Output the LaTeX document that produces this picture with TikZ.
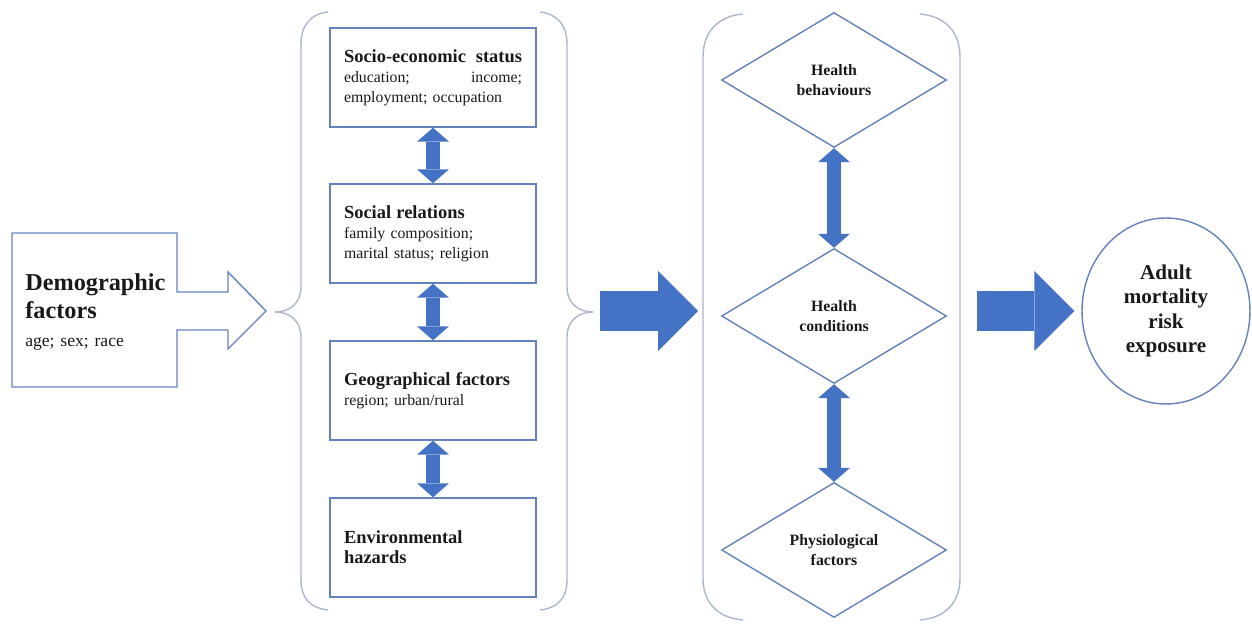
\documentclass[tikz,border=0pt]{standalone}
\usepackage{fontspec}
\setmainfont{Liberation Serif}
\usetikzlibrary{shapes.geometric,arrows.meta}
\definecolor{boxblue}{RGB}{100,130,190}
\definecolor{fillblue}{RGB}{68,114,196}
\definecolor{bracegray}{RGB}{172,182,204}
\definecolor{inkgray}{RGB}{25,25,25}
\newcommand{\factorhead}[1]{{\bfseries\fontsize{10.5}{11.3}\selectfont #1}}
\tikzset{
	factor/.style={draw=boxblue, line width=0.8pt, text=inkgray, text width=3.56cm, inner sep=0.28cm, minimum height=1.98cm, align=left, font=\fontsize{9}{11.3}\selectfont},
	health/.style={diamond, draw=boxblue, line width=0.8pt, text=inkgray, aspect=1.67, minimum width=4.5cm, minimum height=2.7cm, inner sep=0pt, align=center, font=\bfseries\fontsize{9}{11.3}\selectfont},
	link/.style={fillblue, line width=0.28cm, {Triangle[width=0.64cm,length=0.28cm,line width=0pt]}-{Triangle[width=0.64cm,length=0.28cm,line width=0pt]}},
	bigarrow/.style={fillblue, line width=0.8cm, -{Triangle[width=1.6cm,length=0.8cm,line width=0pt]}},
	brace/.style={draw=bracegray, line width=0.8pt}
}
\begin{document}
\begin{tikzpicture}[x=0.02cm, y=-0.02cm]
				\useasboundingbox (0,0) rectangle (1252,624);
				% Demographic factors
				\draw[boxblue, line width=0.8pt] (12,233) -- (177,233) -- (177,292) -- (228,292) -- (228,272) -- (266,311) -- (228,349) -- (228,330) -- (177,330) -- (177,387) -- (12,387) -- cycle;
				\node[anchor=west, text width=3cm, inner sep=0pt, align=left, text=inkgray, font=\fontsize{10}{15.9}\selectfont] (demo) at (25,312) {{\bfseries\fontsize{13.8}{15.9}\selectfont Demographic\\ factors}\\ age; sex; race};
				% Left group
				\draw[brace] (328,12) .. controls (310,14) and (301,26) .. (301,44) -- (301,287) .. controls (301,303) and (290,312) .. (275,312) .. controls (290,312) and (301,321) .. (301,337) -- (301,580) .. controls (301,598) and (310,608) .. (328,610);
				\draw[brace] (540,12) .. controls (558,14) and (567,26) .. (567,44) -- (567,287) .. controls (567,303) and (578,312) .. (593,312) .. controls (578,312) and (567,321) .. (567,337) -- (567,580) .. controls (567,598) and (558,608) .. (540,610);
				\coordinate (lgrp) at (595,311);
				\node[factor] (ses) at (433,77.5) {\factorhead{Socio-economic\hfill status}\\ education;\hfill income;\\ employment; occupation};
				\node[factor] (soc) at (433,233.5) {\factorhead{Social relations}\\ family composition;\\ marital status; religion};
				\node[factor] (geo) at (433,390.5) {\factorhead{Geographical factors}\\ region; urban/rural};
				\node[factor] (env) at (433,547.5) {\factorhead{Environmental\\ hazards}};
				\draw[link] (ses.south) -- (soc.north);
				\draw[link] (soc.south) -- (geo.north);
				\draw[link] (geo.south) -- (env.north);
				% Right group
				\draw[brace] (743,14) .. controls (718,16) and (703,32) .. (703,57) -- (703,578) .. controls (703,603) and (718,618) .. (743,620);
				\draw[brace] (920,14) .. controls (945,16) and (960,32) .. (960,57) -- (960,578) .. controls (960,603) and (945,618) .. (920,620);
				\coordinate (rgrpL) at (703,311);
				\coordinate (rgrpR) at (960,311);
				\node[health] (beh) at (834,80) {Health\\ behaviours};
				\node[health] (cond) at (834,316) {Health\\ conditions};
				\node[health] (phys) at (834,550) {Physiological\\ factors};
				\draw[link] (beh.south) -- (cond.north);
				\draw[link] (cond.south) -- (phys.north);
				% Outcome
				\node[ellipse, draw=boxblue, line width=0.8pt, text=inkgray, minimum width=3.36cm, minimum height=3.72cm, inner sep=0pt, align=center, font=\bfseries\fontsize{12}{14}\selectfont] (adult) at (1166,311) {Adult\\ mortality\\ risk\\ exposure};
				\draw[bigarrow] ([xshift=0.1cm]lgrp) -- ([xshift=-0.1cm]rgrpL);
				\draw[bigarrow] ([xshift=0.34cm]rgrpR) -- ([xshift=-0.14cm]adult.west);
			\end{tikzpicture}
\end{document}
